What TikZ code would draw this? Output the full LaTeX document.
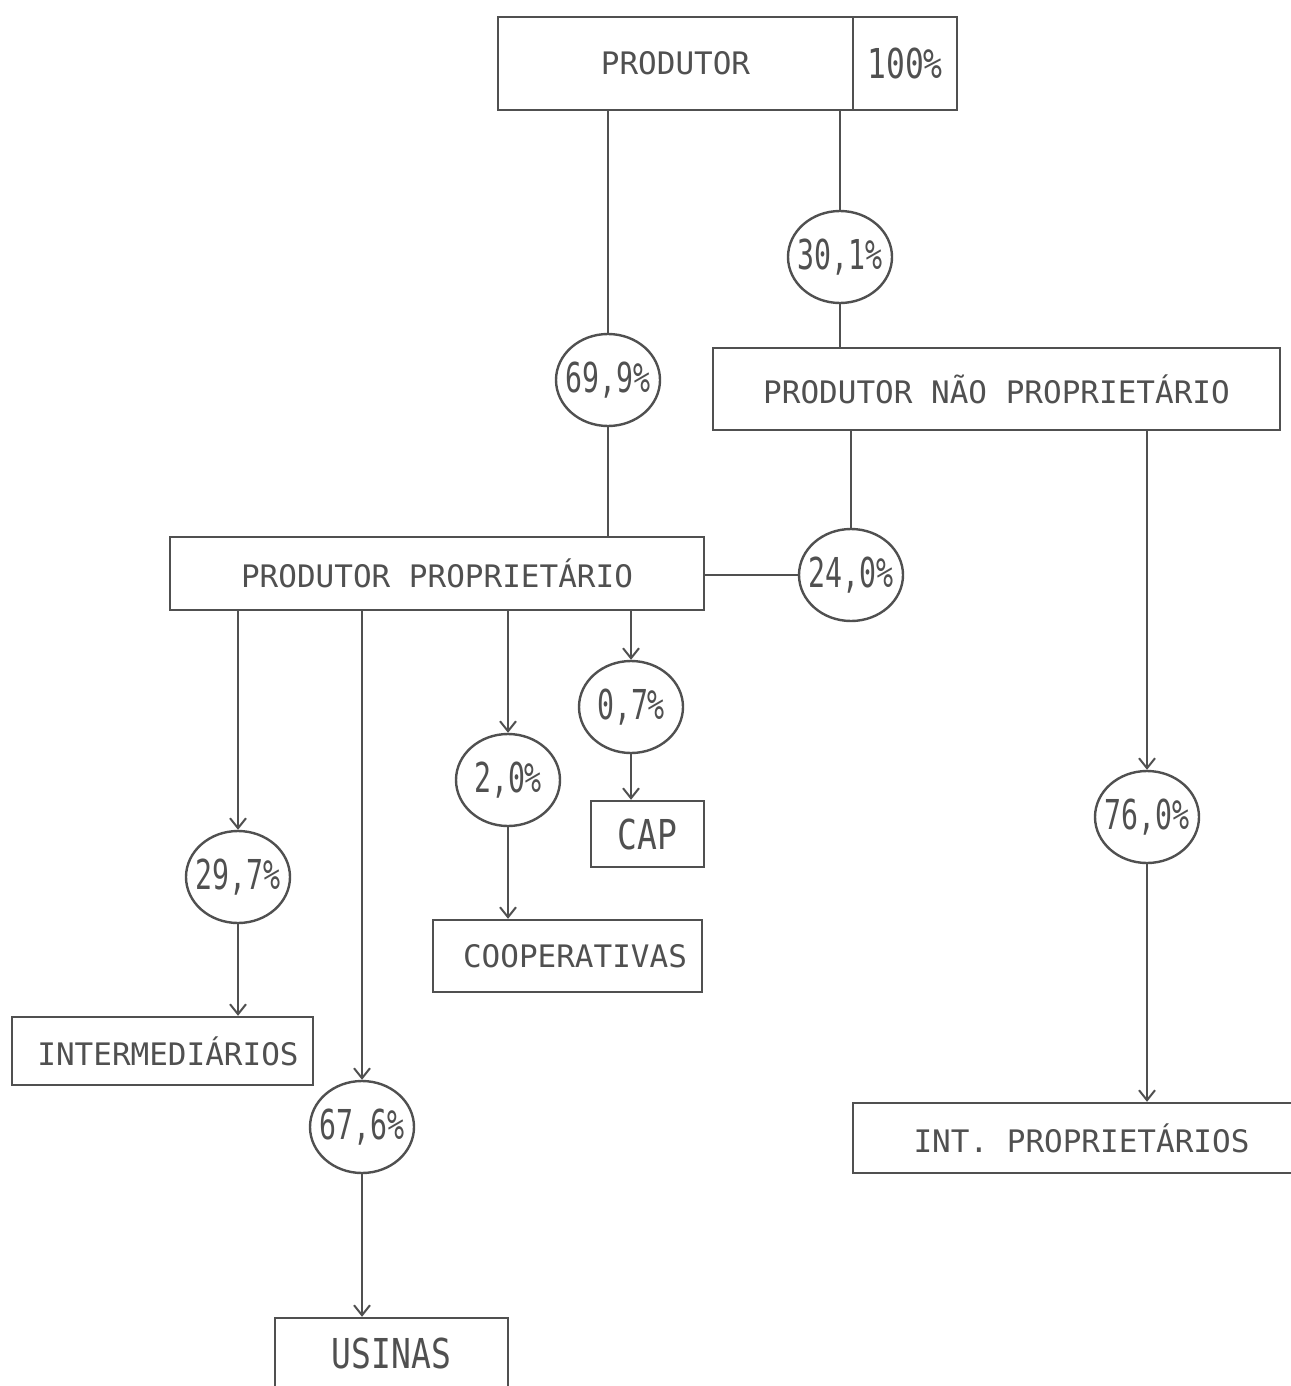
\documentclass[tikz,border=0pt]{standalone}
\usepackage{fontspec}
\usepackage{graphicx}
\usetikzlibrary{shapes.geometric,arrows.meta}
\newfontfamily\typew{DejaVu Sans Mono}
\definecolor{ink}{HTML}{505050}
\newcommand\tallnum[2][0.685]{\scalebox{#1}[1]{\typew\fontsize{20.6}{22}\selectfont #2}}
\tikzset{
  box/.style={draw=ink, line width=1.2pt, rectangle, inner sep=0pt, text=ink,
              font=\typew\fontsize{15.5}{18}\selectfont},
  pct/.style={draw=ink, line width=1.2pt, ellipse, inner xsep=-4pt, inner ysep=0pt,
              minimum width=52pt, minimum height=46pt, text=ink},
  link/.style={draw=ink, line width=1pt},
  arr/.style={link, -{Straight Barb[length=5pt,width=8pt,line width=1pt]}}
}
\begin{document}
\begin{tikzpicture}[x=0.5pt,y=-0.5pt]
\useasboundingbox (0,0) rectangle (1290,1386);
\fill[white] (0,0) rectangle (1290,1386);

% boxes
\node[box, minimum width=177.5pt, minimum height=46.5pt] (prodA) at (675.5,63.5) {PRODUTOR\hspace{12.5pt}};
\node[box, minimum width=52pt, minimum height=46.5pt] (prodB) at (905,63.5) {\tallnum[0.76]{100\%}};
\node[box, minimum width=283.5pt, minimum height=41pt] (pnp) at (996.5,389) {PRODUTOR NÃO PROPRIETÁRIO\hspace{14.5pt}};
\node[box, minimum width=267pt, minimum height=36.5pt] (pp) at (437,573.5) {PRODUTOR PROPRIETÁRIO\hspace{8pt}};
\node[box, minimum width=228.5pt, minimum height=35pt] (intp) at (1081.5,1138) {INT. PROPRIETÁRIOS};
\node[box, minimum width=150.5pt, minimum height=34pt] (inter) at (162.5,1051) {\hspace{5.5pt}INTERMEDIÁRIOS};
\node[box, minimum width=116.5pt, minimum height=35pt] (usinas) at (391.5,1353) {\tallnum[0.8]{USINAS}};
\node[box, minimum width=134.5pt, minimum height=36pt] (coop) at (567.5,956) {\hspace{7.5pt}COOPERATIVAS};
\node[box, minimum width=56.5pt, minimum height=33pt] (cap) at (647.5,834) {\tallnum[0.8]{CAP}};

% percentage circles
\node[pct] (c699) at (608,380) {\tallnum{69,9\%}};
\node[pct] (c301) at (840,257) {\tallnum{30,1\%}};
\node[pct] (c240) at (851,575) {\tallnum{24,0\%}};
\node[pct] (c760) at (1147,817) {\tallnum{76,0\%}};
\node[pct] (c297) at (238,877) {\tallnum{29,7\%}};
\node[pct] (c676) at (362,1127) {\tallnum{67,6\%}};
\node[pct] (c20)  at (508,780) {\tallnum{2,0\%}};
\node[pct] (c07)  at (631,707) {\tallnum{0,7\%}};

% connectors
\draw[link] (prodA.south -| c699) -- (c699);
\draw[link] (c699) -- (c699 |- pp.north);
\draw[link] (prodA.south -| c301) -- (c301);
\draw[link] (c301) -- (c301 |- pnp.north);
\draw[link] (pnp.south -| c240) -- (c240);
\draw[link] (c240) -- (c240 -| pp.east);
\draw[arr] (pnp.south -| c760) -- (c760);
\draw[arr] (c760) -- (c760 |- intp.north);
\draw[arr] (pp.south -| c297) -- (c297);
\draw[arr] (c297) -- (c297 |- inter.north);
\draw[arr] (pp.south -| c676) -- (c676);
\draw[arr] (c676) -- (c676 |- usinas.north);
\draw[arr] (pp.south -| c20) -- (c20);
\draw[arr] (c20) -- (c20 |- coop.north);
\draw[arr] (pp.south -| c07) -- (c07);
\draw[arr] (c07) -- (c07 |- cap.north);
\end{tikzpicture}
\end{document}
